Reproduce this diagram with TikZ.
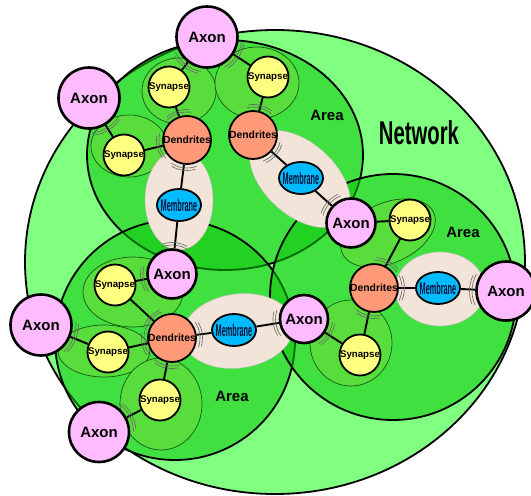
\documentclass[tikz,border=0pt]{standalone}
\usepackage{fontspec}
\setmainfont{Liberation Sans}
\usetikzlibrary{shapes.geometric}
\pgfdeclarelayer{bg}
\pgfdeclarelayer{mid}
\pgfdeclarelayer{lines}
\pgfsetlayers{bg,mid,lines,main}
\definecolor{netc}{RGB}{128,255,128}
\definecolor{areac}{RGB}{8,197,8}
\definecolor{grpc}{RGB}{88,221,60}
\definecolor{grpline}{RGB}{20,90,20}
\definecolor{axonc}{RGB}{255,187,255}
\definecolor{sync}{RGB}{255,255,128}
\definecolor{dendc}{RGB}{255,153,119}
\definecolor{memc}{RGB}{0,187,255}
\definecolor{beigec}{RGB}{242,228,216}
\definecolor{memtxt}{RGB}{10,20,60}
\newcommand\mbtext{\makebox[20pt]{\scalebox{0.43}[1]{\color{memtxt}\bfseries\fontsize{17}{17}\selectfont Membrane}}}
\newcommand\wbox[1]{\makebox[10pt]{#1}}
\newcommand\clft[3]{%
  \draw[cleft] (#1.center) ++({#2-27}:{#3+3}) arc[start angle={#2-27}, delta angle=54, radius={#3+3}];
  \draw[cleft] (#1.center) ++({#2-23}:{#3+5.5}) arc[start angle={#2-23}, delta angle=46, radius={#3+5.5}];}
\tikzset{
  netline/.style={draw=black, line width=1.8pt},
  arealine/.style={draw=black, line width=1.8pt, fill=areac, fill opacity=0.53},
  grp/.style={draw=grpline, line width=0.7pt, fill=grpc},
  beige/.style={fill=beigec, draw=black!25, line width=0.4pt},
  axon/.style={circle, draw=black, line width=2.6pt, fill=axonc, inner sep=0pt, font=\bfseries\fontsize{15}{15}\selectfont},
  syn/.style={circle, draw=black, line width=1.8pt, fill=sync, inner sep=0pt, minimum size=41pt, font=\bfseries\fontsize{9.7}{9.7}\selectfont},
  dend/.style={circle, draw=black, line width=1.8pt, fill=dendc, inner sep=0pt, minimum size=48pt, font=\bfseries\fontsize{10.4}{10.4}\selectfont},
  mem/.style={ellipse, draw=black, line width=1.8pt, fill=memc, inner sep=0pt, minimum width=44pt, minimum height=32pt},
  link/.style={draw=black, line width=1.9pt},
  cleft/.style={draw=black!60, line width=0.6pt},
  arealbl/.style={font=\bfseries\fontsize{15}{15}\selectfont},
  netlbl/.style={font=\bfseries\fontsize{33}{33}\selectfont}
}
\begin{document}
\begin{tikzpicture}[x=1pt,y=1pt]
\useasboundingbox (0,0) rectangle (531,-496);
\begin{pgfonlayer}{bg}
  \fill[white] (0,0) rectangle (531,-496);
  \draw[netline, fill=netc] (275,-262) ellipse[x radius=250, y radius=232];
  \draw[arealine] (225,-155) ellipse[x radius=138, y radius=115];
  \draw[arealine] (175,-340) circle[radius=120];
  \draw[arealine] (393,-297) circle[radius=123];
\end{pgfonlayer}
\begin{pgfonlayer}{mid}
  \draw[grp] (179,-91) ellipse[x radius=37, y radius=33];
  \draw[grp] (129,-146) ellipse[x radius=38, y radius=31];
  \draw[grp] (257,-83) ellipse[x radius=42, y radius=36];
  \draw[grp] (133,-292) ellipse[x radius=50, y radius=35];
  \draw[grp] (104,-351) ellipse[x radius=46, y radius=26];
  \draw[grp] (161,-404) ellipse[x radius=41, y radius=46];
  \draw[grp, rotate around={24:(388,-233)}] (388,-233) ellipse[x radius=50, y radius=30];
  \draw[grp] (351,-343) ellipse[x radius=41, y radius=43];
  \path[beige] (179,-200) ellipse[x radius=34, y radius=50];
  \path[beige, rotate around={-42.6:(300,-179)}] (300,-179) ellipse[x radius=60, y radius=36];
  \path[beige, rotate around={8:(238,-331)}] (238,-331) ellipse[x radius=56, y radius=37];
  \path[beige] (440,-289) ellipse[x radius=45, y radius=37];
\end{pgfonlayer}
% labels
\node[netlbl] (netlabel) at (419,-133) {\scalebox{0.615}[1]{Network}};
\node[arealbl] (area1) at (327,-115) {Area};
\node[arealbl] (area3) at (463,-232) {Area};
\node[arealbl] (area2) at (232,-396) {Area};
% axons
\node[axon, minimum size=61pt] (ax1) at (207,-37) {Axon};
\node[axon, minimum size=61pt] (ax2) at (89,-98) {Axon};
\node[axon, minimum size=49pt] (ax3) at (172,-274) {Axon};
\node[axon, minimum size=49pt] (ax4) at (351,-223) {Axon};
\node[axon, minimum size=48pt] (ax5) at (304,-319) {Axon};
\node[axon, minimum size=59pt] (ax6) at (506,-291) {Axon};
\node[axon, minimum size=61pt] (ax7) at (41,-325) {Axon};
\node[axon, minimum size=60pt] (ax8) at (99,-432) {Axon};
% synapses
\node[syn] (s1) at (169,-87) {\wbox{Synapse}};
\node[syn] (s2) at (124,-155) {\wbox{Synapse}};
\node[syn] (s3) at (268,-77) {\wbox{Synapse}};
\node[syn] (s4) at (115,-285) {\wbox{Synapse}};
\node[syn] (s5) at (108,-352) {\wbox{Synapse}};
\node[syn] (s6) at (160,-400) {\wbox{Synapse}};
\node[syn] (s7) at (410,-220) {\wbox{Synapse}};
\node[syn] (s8) at (360,-355) {\wbox{Synapse}};
% dendrites
\node[dend] (da) at (187,-140) {\wbox{Dendrites}};
\node[dend] (db) at (253,-135) {\wbox{Dendrites}};
\node[dend] (dc) at (172,-338) {\wbox{Dendrites}};
\node[dend] (dd) at (374,-288) {\wbox{Dendrites}};
% membranes
\node[mem] (ma) at (179,-205) {\mbtext};
\node[mem] (mb) at (301,-178) {\mbtext};
\node[mem] (mc) at (234,-330) {\mbtext};
\node[mem] (md) at (438,-288) {\mbtext};
\begin{pgfonlayer}{lines}
  \draw[link] (da) -- (s1);
  \draw[link] (da) -- (s2);
  \draw[link] (da) -- (ma);
  \draw[link] (ma) -- (ax3);
  \draw[link] (s1) -- (ax1);
  \draw[link] (s2) -- (ax2);
  \draw[link] (db) -- (s3);
  \draw[link] (s3) -- (ax1);
  \draw[link] (db) -- (mb);
  \draw[link] (mb) -- (ax4);
  \draw[link] (dc) -- (s4);
  \draw[link] (s4) -- (ax3);
  \draw[link] (dc) -- (s5);
  \draw[link] (s5) -- (ax7);
  \draw[link] (dc) -- (s6);
  \draw[link] (s6) -- (ax8);
  \draw[link] (dc) -- (mc);
  \draw[link] (mc) -- (ax5);
  \draw[link] (dd) -- (s7);
  \draw[link] (s7) -- (ax4);
  \draw[link] (dd) -- (s8);
  \draw[link] (s8) -- (ax5);
  \draw[link] (dd) -- (md);
  \draw[link] (md) -- (ax6);
\end{pgfonlayer}
% synaptic clefts
\clft{da}{108.8}{25}
\clft{da}{193.4}{25}
\clft{da}{263}{25}
\clft{ax1}{232.8}{32}
\clft{ax1}{326.7}{32}
\clft{ax2}{301.6}{32}
\clft{db}{75.5}{25}
\clft{db}{318.1}{25}
\clft{ax3}{84.2}{26}
\clft{ax3}{190.9}{26}
\clft{ax4}{138}{26}
\clft{dc}{137}{25}
\clft{dc}{192.3}{25}
\clft{dc}{259}{25}
\clft{dc}{7.4}{25}
\clft{ax5}{188.9}{25.5}
\clft{ax5}{327.3}{25.5}
\clft{ax7}{338}{32}
\clft{ax8}{27.7}{31.5}
\clft{dd}{62.1}{25}
\clft{dd}{258.2}{25}
\clft{dd}{0}{25}
\clft{ax6}{177.5}{31}
\end{tikzpicture}
\end{document}
